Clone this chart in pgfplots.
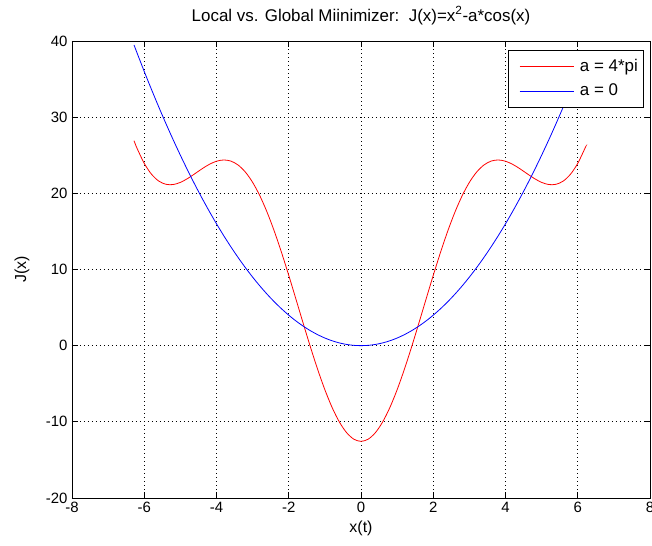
\documentclass[border=0pt]{standalone}
\usepackage{pgfplots}
\pgfplotsset{compat=1.18}
\usepackage{fontspec}
\setmainfont{Liberation Sans}
\begin{document}
\begin{tikzpicture}[font=\fontsize{15}{18}\selectfont]
\begin{axis}[name=ax, at={(0,0)}, anchor=south west,
  scale only axis, width=578bp, height=457bp,
  xmin=-8, xmax=8, ymin=-20, ymax=40,
  xtick={-8,-6,...,8}, ytick={-20,-10,...,40},
  /pgf/number format/assume math mode=true,
  grid=major,
  major grid style={black, line width=0.8bp, dash pattern=on 0.8bp off 3.2bp},
  axis line style={black, line width=0.8bp},
  major tick style={black, line width=0.8bp},
  major tick length=6bp,
  tick align=inside,
  xticklabel style={yshift=-1bp},
  yticklabel style={xshift=-1bp},
  title={Local vs. Global Miinimizer:~~J(x)=x\textsuperscript{2}-a*cos(x)},
  title style={at={(axis description cs:0.5,1)}, yshift=14bp, anchor=base, font=\fontsize{17}{20}\selectfont},
  xlabel={x(t)},
  every axis x label/.style={at={(axis description cs:0.5,0)}, yshift=-30bp, anchor=center, font=\fontsize{16}{19}\selectfont},
  ylabel={J(x)},
  every axis y label/.style={at={(axis description cs:0,0.5)}, xshift=-50bp, rotate=90, anchor=center, font=\fontsize{16}{19}\selectfont},
  legend cell align=left,
  legend style={at={(0.990,0.9803)}, anchor=north east, draw=black, line width=0.8bp,
    fill=white, inner xsep=6bp, inner ysep=6.5bp, row sep=5bp, column sep=6bp,
    font=\fontsize{17}{20}\selectfont,
    nodes={inner sep=0bp, text height=14.5bp, text depth=5bp}},
  legend image code/.code={\path (-5bp,0bp); \draw[#1] (0bp,0bp) -- (54bp,0bp);},
]
\addplot[red, line width=0.8bp, smooth] coordinates {
(-6.2832,26.912) (-6.2,25.917) (-6.0,23.934) (-5.8,22.512) (-5.6,21.614) (-5.4,21.184) (-5.2,21.152) (-5.0,21.435) (-4.8,21.940) (-4.6,22.569) (-4.4,23.222) (-4.2,23.801) (-4.0,24.214) (-3.8,24.380) (-3.6,24.229) (-3.4,23.709) (-3.2,22.785) (-3.0,21.441) (-2.8,19.680) (-2.6,17.528) (-2.4,15.026) (-2.2,12.235) (-2.0,9.230) (-1.8,6.095) (-1.6,2.927) (-1.4,-0.176) (-1.2,-3.114) (-1.0,-5.790) (-0.8,-8.115) (-0.6,-10.012) (-0.4,-11.414) (-0.2,-12.276) (0,-12.566)
(0.2,-12.276) (0.4,-11.414) (0.6,-10.012) (0.8,-8.115) (1.0,-5.790) (1.2,-3.114) (1.4,-0.176) (1.6,2.927) (1.8,6.095) (2.0,9.230) (2.2,12.235) (2.4,15.026) (2.6,17.528) (2.8,19.680) (3.0,21.441) (3.2,22.785) (3.4,23.709) (3.6,24.229) (3.8,24.380) (4.0,24.214) (4.2,23.801) (4.4,23.222) (4.6,22.569) (4.8,21.940) (5.0,21.435) (5.2,21.152) (5.4,21.184) (5.6,21.614) (5.8,22.512) (6.0,23.934) (6.2,25.917) (6.2168,26.110)
};
\addlegendentry{a = 4*pi}
\addplot[blue, line width=0.8bp, smooth] coordinates {
(-6.2832,39.478) (-6.2,38.44) (-6.0,36.00) (-5.8,33.64) (-5.6,31.36) (-5.4,29.16) (-5.2,27.04) (-5.0,25.00) (-4.8,23.04) (-4.6,21.16) (-4.4,19.36) (-4.2,17.64) (-4.0,16.00) (-3.8,14.44) (-3.6,12.96) (-3.4,11.56) (-3.2,10.24) (-3.0,9.00) (-2.8,7.84) (-2.6,6.76) (-2.4,5.76) (-2.2,4.84) (-2.0,4.00) (-1.8,3.24) (-1.6,2.56) (-1.4,1.96) (-1.2,1.44) (-1.0,1.00) (-0.8,0.64) (-0.6,0.36) (-0.4,0.16) (-0.2,0.04) (0,0)
(0.2,0.04) (0.4,0.16) (0.6,0.36) (0.8,0.64) (1.0,1.00) (1.2,1.44) (1.4,1.96) (1.6,2.56) (1.8,3.24) (2.0,4.00) (2.2,4.84) (2.4,5.76) (2.6,6.76) (2.8,7.84) (3.0,9.00) (3.2,10.24) (3.4,11.56) (3.6,12.96) (3.8,14.44) (4.0,16.00) (4.2,17.64) (4.4,19.36) (4.6,21.16) (4.8,23.04) (5.0,25.00) (5.2,27.04) (5.4,29.16) (5.6,31.36) (5.8,33.64) (6.0,36.00) (6.2,38.44) (6.2168,38.649)
};
\addlegendentry{a = 0}
\end{axis}
\pgfresetboundingbox
\path ([shift={(-72bp,-48bp)}]ax.south west) rectangle ([shift={(2bp,41bp)}]ax.north east);
\end{tikzpicture}
\end{document}
